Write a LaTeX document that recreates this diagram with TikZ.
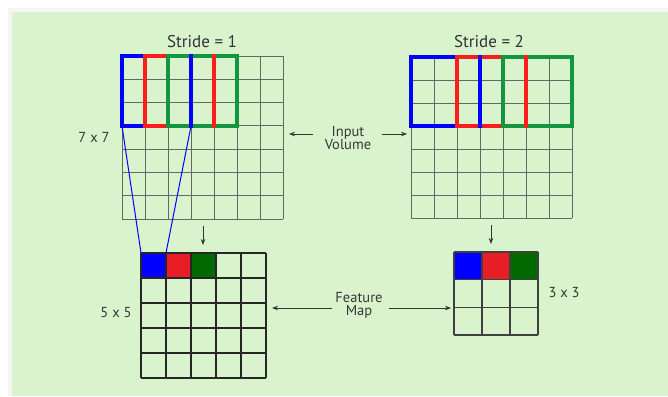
\documentclass[tikz,border=0pt]{standalone}
\usepackage{fontspec}
\setmainfont{PT Sans}
\usetikzlibrary{arrows.meta}
\definecolor{bgc}{RGB}{217,243,205}
\definecolor{framered}{RGB}{250,30,30}
\definecolor{framegreen}{RGB}{20,150,65}
\definecolor{cellred}{RGB}{232,30,38}
\definecolor{cellgreen}{RGB}{0,105,0}
\definecolor{txt}{RGB}{55,55,55}
\tikzset{
  area/.style={inner sep=0pt, outer sep=0pt},
  thin grid/.style={draw=black!60, line width=0.9pt},
  bold grid/.style={draw=black!85, line width=1.4pt},
  frame/.style={line width=3.2pt, line cap=rect},
  label/.style={text=txt, font=\fontsize{14.5}{16}\selectfont, align=center, inner sep=1pt},
  title/.style={text=black!80, font=\fontsize{17}{19}\selectfont, inner sep=0pt},
  pointer/.style={draw=black!80, line width=0.8pt, -{Stealth[length=6pt,width=4.5pt]}},
}
\begin{document}
\begin{tikzpicture}[x=1pt,y=-1pt]
\useasboundingbox (0,0) rectangle (668,396);
% background panel
\fill[black!4] (8,8) rectangle (668,396);
\fill[bgc] (12,12) rectangle (668,396);

% ---------- stride 1 : 7x7 input ----------
\node[area, anchor=north west, minimum width=161pt, minimum height=163pt] (inA) at (122,56) {};
\foreach \i in {0,...,7} \draw[thin grid] (122+\i*23,56) -- (122+\i*23,219);
\foreach \j in {0,...,7} \draw[thin grid] (122,56+\j*23.29) -- (283,56+\j*23.29);
\draw[frame, blue] (122,56) rectangle (191,126);
\draw[frame, framered] (145,56) rectangle (214,126);
\draw[frame, framegreen] (168,56) rectangle (237,126);
\draw[frame, blue] (191,56) -- (191,126);
\draw[frame, framered] (214,56) -- (214,126);
\coordinate (kA1) at (122,126);
\coordinate (kA2) at (191,126);

% ---------- stride 2 : 7x7 input ----------
\node[area, anchor=north west, minimum width=161pt, minimum height=161pt] (inB) at (411,57) {};
\foreach \i in {0,...,7} \draw[thin grid] (411+\i*23,57) -- (411+\i*23,218);
\foreach \j in {0,...,7} \draw[thin grid] (411,57+\j*23) -- (572,57+\j*23);
\draw[frame, blue] (411,57) rectangle (480,126);
\draw[frame, framered] (457,57) rectangle (526,126);
\draw[frame, framegreen] (503,57) rectangle (572,126);
\draw[frame, blue] (480,57) -- (480,126);
\draw[frame, framered] (526,57) -- (526,126);

% ---------- 5x5 feature map ----------
\node[area, anchor=north west, minimum width=125pt, minimum height=125pt] (outA) at (141,253) {};
\fill[blue] (141,253) rectangle (166,278);
\fill[cellred] (166,253) rectangle (191,278);
\fill[cellgreen] (191,253) rectangle (216,278);
\foreach \i in {0,...,5} \draw[bold grid] (141+\i*25,253) -- (141+\i*25,378);
\foreach \j in {0,...,5} \draw[bold grid] (141,253+\j*25) -- (266,253+\j*25);
\coordinate (cA) at (166,253);

% ---------- 3x3 feature map ----------
\node[area, anchor=north west, minimum width=84pt, minimum height=83pt] (outB) at (454,252) {};
\fill[blue] (454,252) rectangle (482,280);
\fill[cellred] (482,252) rectangle (510,280);
\fill[cellgreen] (510,252) rectangle (538,280);
\foreach \i in {0,...,3} \draw[thin grid, draw=black!75, line width=1.1pt] (454+\i*28,252) -- (454+\i*28,335);
\foreach \j in {0,...,3} \draw[thin grid, draw=black!75, line width=1.1pt] (454,252+\j*27.67) -- (538,252+\j*27.67);

% receptive field of the first output cell
\draw[blue, line width=1pt] (kA1) -- (outA.north west);
\draw[blue, line width=1pt] (kA2) -- (cA);

% ---------- labels ----------
\node[title] (tA) at (202,42) {Stride = 1};
\node[title] (tB) at (489,42) {Stride = 2};
\node[label] (sA) at (94,137) {7 x 7};
\node[label] (sB) at (116,313) {5 x 5};
\node[label] (sC) at (564,293) {3 x 3};
\node[label] (iv) at (348,138) {Input\\[-3pt]Volume};
\node[label] (fm) at (359,305) {Feature\\[-3pt]Map};

% ---------- pointers ----------
\coordinate (ivL) at (289,134);
\coordinate (ivR) at (407,134);
\coordinate (fmL) at (272,308);
\coordinate (fmR) at (451,308);
\draw[pointer] (313,134) -- (ivL);
\draw[pointer] (382,134) -- (ivR);
\draw[pointer] (332,308) -- (fmL);
\draw[pointer] (389,308) -- (fmR);
\coordinate (dA1) at (203,226);
\coordinate (dA2) at (203,245);
\coordinate (dB1) at (491,225);
\coordinate (dB2) at (491,244);
\draw[pointer] (dA1) -- (dA2);
\draw[pointer] (dB1) -- (dB2);
\end{tikzpicture}
\end{document}
